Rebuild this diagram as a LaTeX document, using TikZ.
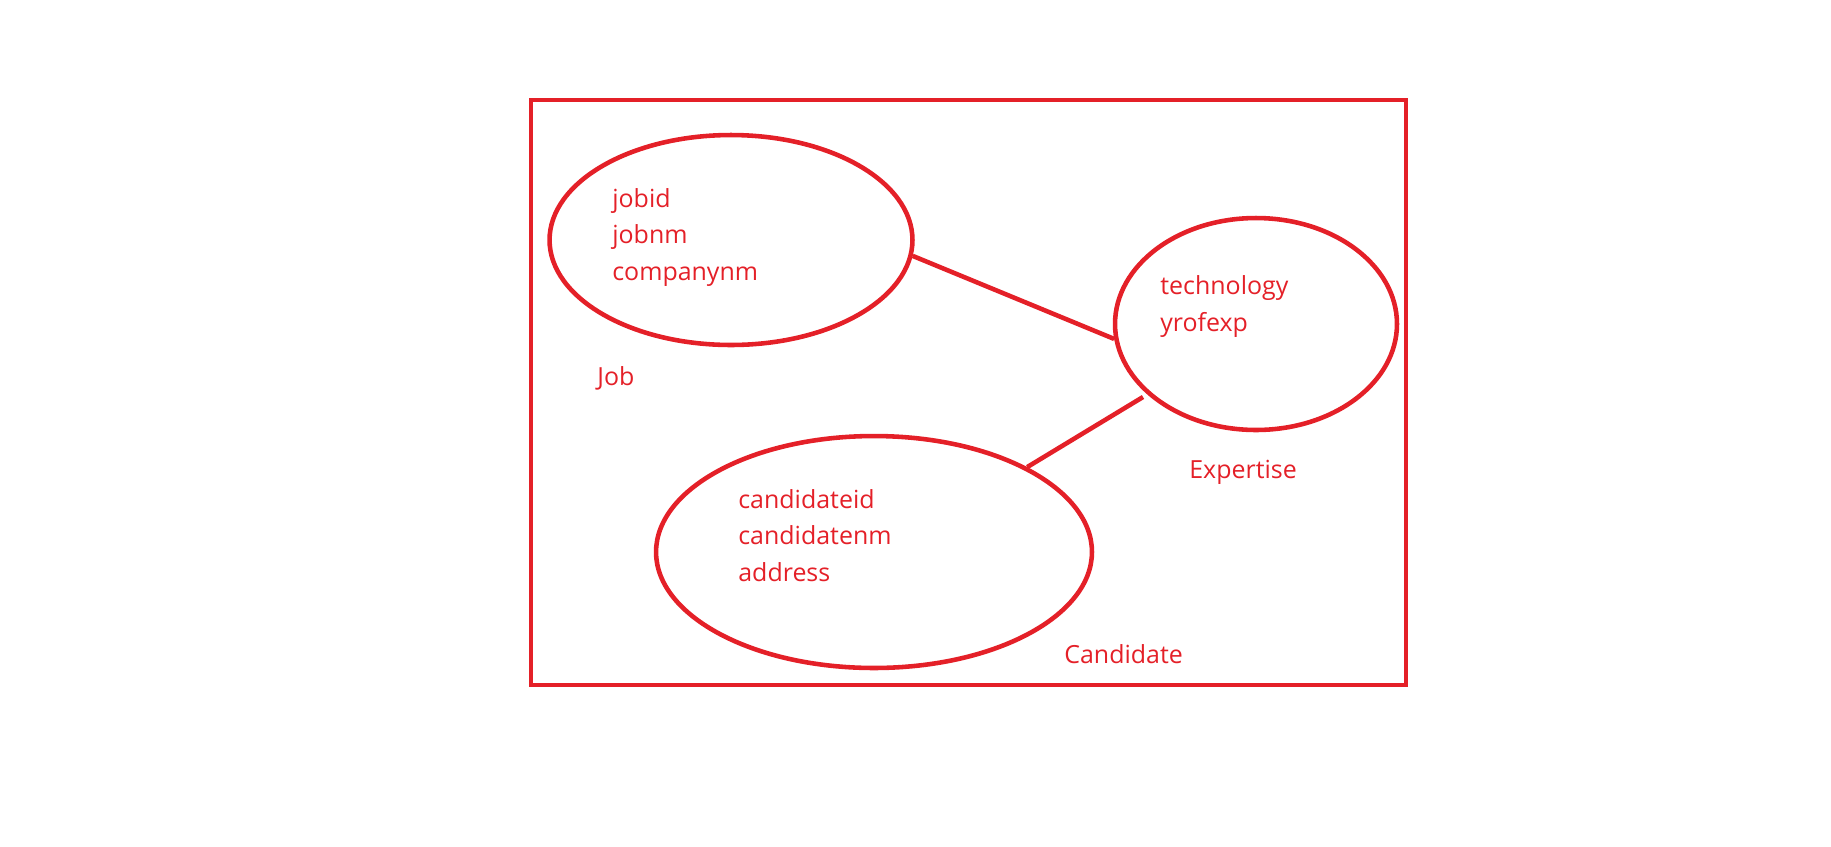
\documentclass[tikz,border=0pt]{standalone}
\usepackage{fontspec}
\setmainfont{Open Sans}
\usetikzlibrary{shapes.geometric}
\definecolor{erred}{RGB}{228,32,40}
\tikzset{
    entity/.style={draw=erred, line width=2.6pt, ellipse, inner sep=0pt},
    attrs/.style={text=erred, anchor=base west, align=left, inner sep=0pt,
        font=\fontsize{14.2pt}{20.5pt}\selectfont},
    link/.style={draw=erred, line width=2.6pt}
}
\begin{document}
\begin{tikzpicture}[x=0.02cm, y=-0.02cm]
            \useasboundingbox (0,0) rectangle (1831,846);

            % 外框
            \draw[erred, line width=2.4pt] (531,100) rectangle (1406,685);

            % 实体 (椭圆)
            \node[entity, minimum width=7.26cm, minimum height=4.2cm] (job) at (731,240) {};
            \node[entity, minimum width=5.64cm, minimum height=4.24cm] (expertise) at (1256,324) {};
            \node[entity, minimum width=8.72cm, minimum height=4.64cm] (candidate) at (874,552) {};

            % 属性 (基线 = 最后一行)
            \node[attrs] (jobattr) at (612,280) {jobid\\jobnm\\companynm};
            \node[attrs] (expattr) at (1160,331) {technology\\yrofexp};
            \node[attrs] (candattr) at (738,581) {candidateid\\candidatenm\\address};

            % 实体名称
            \node[attrs] (joblbl) at (597,385) {Job};
            \node[attrs] (explbl) at (1189,478) {Expertise};
            \node[attrs] (candlbl) at (1064,663) {Candidate};

            % 联系
            \coordinate (expgap) at (1143,397);
            \draw[link] (job.-5) -- (expertise.186);
            \draw[link] (expgap) -- (candidate.29);
\end{tikzpicture}
\end{document}
